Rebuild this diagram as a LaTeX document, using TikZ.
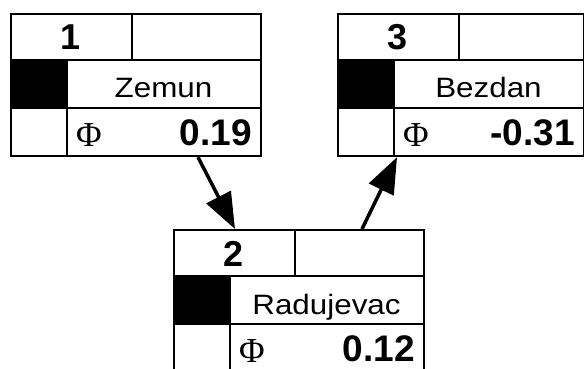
\documentclass[tikz,border=0pt]{standalone}
\usepackage{fontspec}
\setmainfont{Liberation Sans}
\newfontfamily\phifont{Liberation Serif}
\usetikzlibrary{arrows.meta}

\tikzset{
  boxframe/.style={draw, line width=2.2pt, anchor=north west, inner sep=0pt,
    minimum height=142pt},
  cellline/.style={line width=2.2pt},
  numtext/.style={anchor=base, inner sep=0pt, font=\fontsize{36}{37}\selectfont\bfseries},
  nametext/.style={anchor=base, inner sep=0pt, font=\fontsize{28}{30}\selectfont},
  valtext/.style={anchor=base east, inner sep=0pt, font=\fontsize{37}{38}\selectfont\bfseries},
  phitext/.style={anchor=base west, inner sep=0pt, font=\fontsize{35}{36}\phifont},
  flow/.style={line width=3.5pt, -{Triangle[length=36pt,width=27pt]}},
}

% one station box: name, left, top, width, number, label, value
\newcommand\stationbox[7]{%
  \begin{scope}[shift={(#2,#3)}]
    \fill (0,47) rectangle (57,95);
    \node[boxframe, minimum width=#4pt] (#1) at (0,0) {};
    \draw[cellline] (0,47) -- (#4,47) (0,95) -- (#4,95)
      (122,0) -- (122,47) (57,47) -- (57,142);
    \node[numtext] (#1-num) at (61,37) {#5};
    \node[nametext] (#1-name) at ({(57+#4)/2},85) {\scalebox{1.12}[1]{#6}};
    \node[phitext] (#1-phi) at (66,133) {Φ};
    \node[valtext] (#1-val) at ({#4-8},132) {#7};
  \end{scope}}

\begin{document}
\begin{tikzpicture}[x=1pt, y=-1pt]
  \useasboundingbox (0,0) rectangle (584,369);
  \clip (0,0) rectangle (584,369);
  \fill[white] (0,0) rectangle (584,369);

  \stationbox{b1}{10}{13}{250}{1}{Zemun}{0.19}
  \stationbox{b3}{337}{13}{246}{3}{Bezdan}{-0.31}
  \stationbox{b2}{173}{229}{250}{2}{Radujevac}{0.12}

  \draw[flow] ([xshift=188pt]b1.south west) -- ([xshift=62pt]b2.north west);
  \draw[flow] ([xshift=189pt]b2.north west) -- ([xshift=60pt]b3.south west);
\end{tikzpicture}
\end{document}
